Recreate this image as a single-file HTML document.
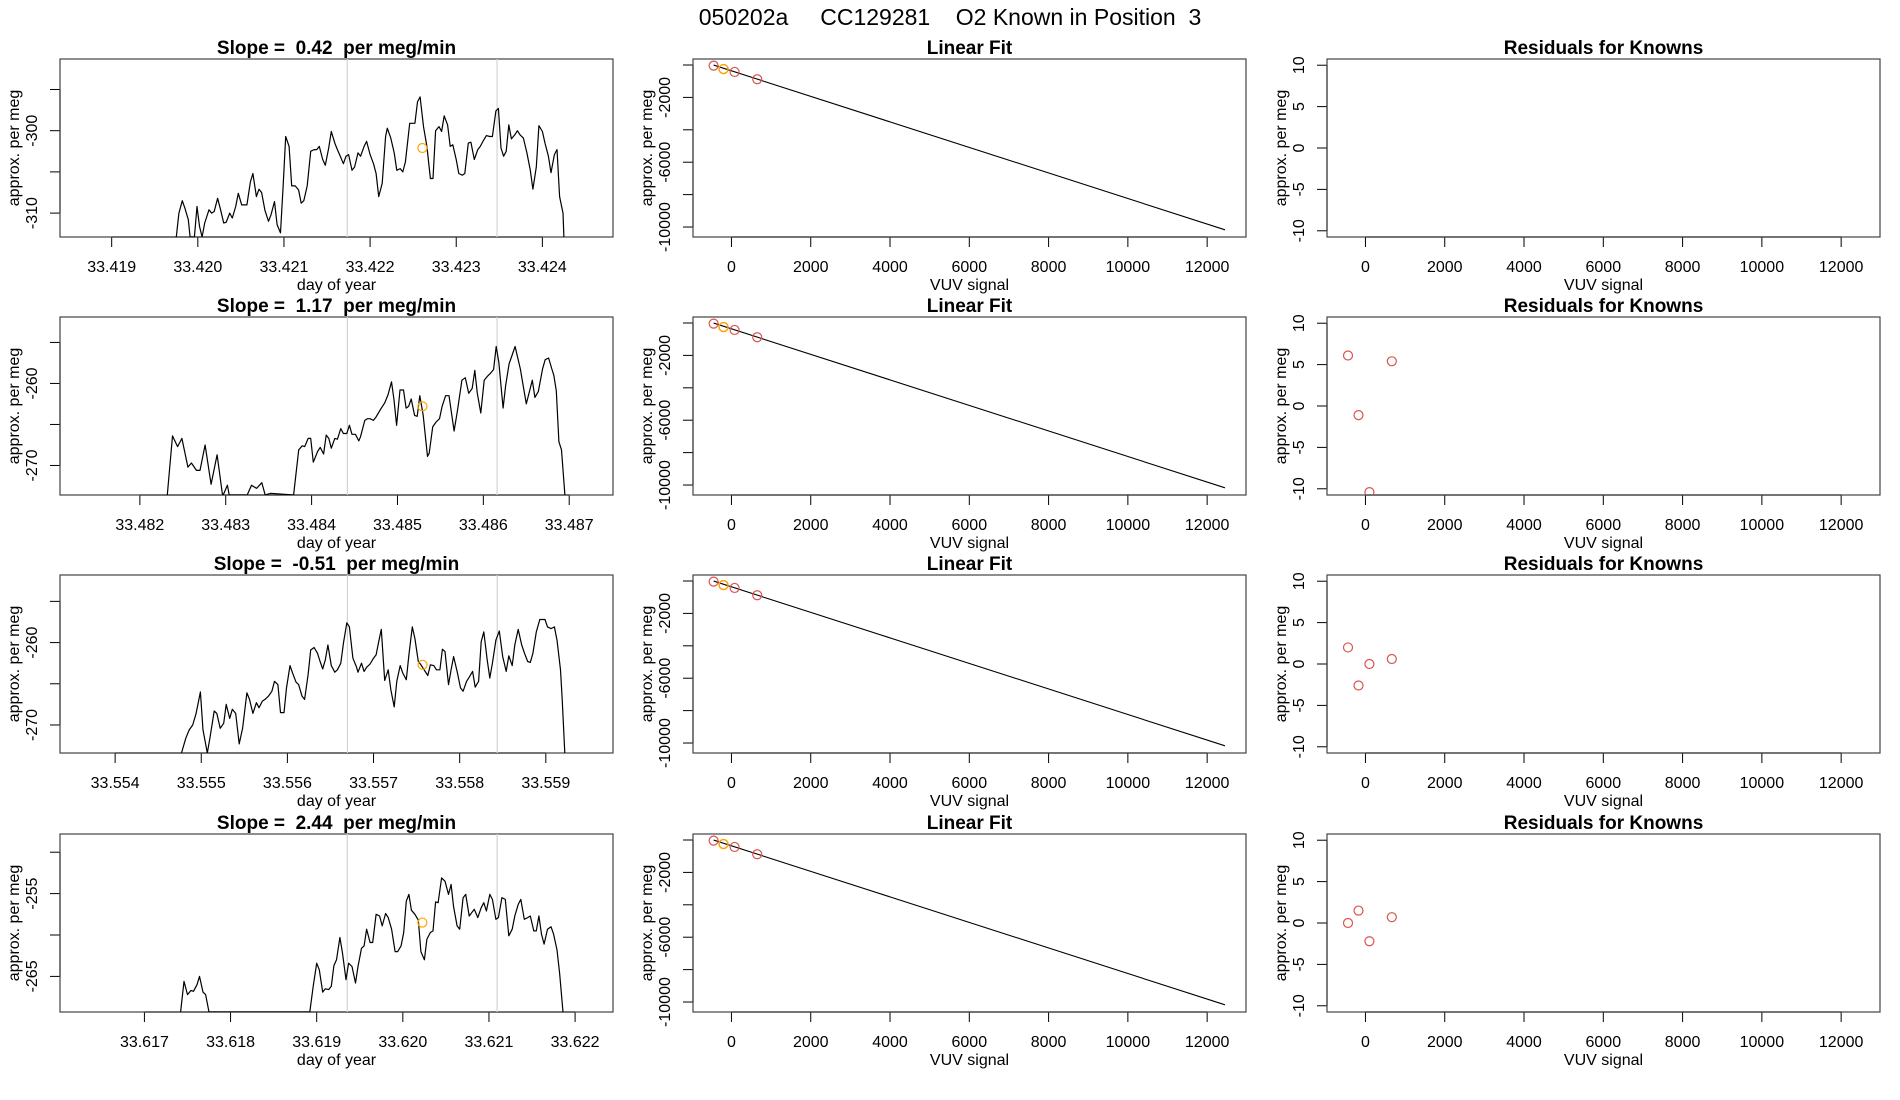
<!DOCTYPE html>
<html><head><meta charset="utf-8"><title>050202a CC129281 O2 Known in Position 3</title>
<style>
html,body{margin:0;padding:0;background:#fff;}
svg{display:block;font-family:"Liberation Sans",Arial,sans-serif;}
text{white-space:pre;}
</style></head>
<body>
<svg id="chart" width="1900" height="1100" viewBox="0 0 1900 1100" xmlns="http://www.w3.org/2000/svg">
<rect x="0" y="0" width="1900" height="1100" fill="#fff"/>
<text x="950" y="25" text-anchor="middle" font-size="23" fill="#000" xml:space="preserve">050202a     CC129281    O2 Known in Position  3</text>
</svg>
<script>
// ---------- data ----------
const slopeLabels = ["0.42", "1.17", "-0.51", "2.44"];

const p1Time = [33.41975,33.41978,33.41982,33.41985,33.41989,33.41991,33.41996,33.41999,33.42002,33.42005,33.42008,33.42013,33.42016,33.42019,33.42023,33.42026,33.42030,33.42033,33.42037,33.42040,33.42044,33.42047,33.42051,33.42057,33.42061,33.42064,33.42068,33.42071,33.42074,33.42078,33.42082,33.42085,33.42089,33.42092,33.42096,33.42099,33.42102,33.42106,33.42109,33.42113,33.42117,33.42120,33.42123,33.42127,33.42131,33.42135,33.42138,33.42141,33.42145,33.42148,33.42152,33.42155,33.42159,33.42162,33.42165,33.42169,33.42172,33.42175,33.42179,33.42182,33.42186,33.42189,33.42193,33.42196,33.42200,33.42204,33.42207,33.42210,33.42214,33.42218,33.42220,33.42224,33.42228,33.42231,33.42235,33.42238,33.42241,33.42246,33.42252,33.42255,33.42258,33.42262,33.42266,33.42270,33.42273,33.42276,33.42280,33.42283,33.42286,33.42290,33.42293,33.42296,33.42300,33.42303,33.42307,33.42310,33.42314,33.42317,33.42321,33.42325,33.42328,33.42331,33.42335,33.42339,33.42342,33.42346,33.42349,33.42352,33.42355,33.42358,33.42361,33.42364,33.42368,33.42371,33.42374,33.42378,33.42382,33.42386,33.42389,33.42393,33.42396,33.42400,33.42403,33.42407,33.42410,33.42414,33.42417,33.42420,33.42424,33.42425];
const p1Val = [-312.9,-310.0,-308.5,-309.4,-310.8,-312.9,-312.9,-309.2,-311.6,-312.9,-311.2,-309.6,-310.0,-309.8,-308.2,-309.4,-311.2,-311.1,-310.0,-310.6,-309.2,-307.6,-309.0,-309.0,-306.2,-305.2,-308.0,-307.1,-307.5,-309.7,-311.0,-310.2,-308.6,-311.4,-312.4,-306.8,-300.7,-301.9,-306.7,-306.7,-307.2,-308.8,-308.5,-306.7,-302.5,-302.3,-302.3,-301.9,-303.5,-304.2,-302.1,-300.1,-301.5,-302.3,-303.0,-304.0,-303.1,-302.9,-304.8,-304.4,-302.7,-303.1,-301.9,-301.3,-302.9,-304.0,-305.2,-308.0,-306.4,-300.7,-299.7,-300.9,-302.7,-304.8,-304.6,-305.0,-303.8,-299.1,-299.1,-296.5,-295.9,-299.5,-301.9,-305.8,-305.8,-300.0,-299.5,-300.1,-298.2,-299.3,-301.9,-301.7,-303.5,-305.2,-305.4,-305.2,-301.5,-301.4,-303.5,-302.3,-301.9,-301.3,-300.6,-300.7,-300.7,-297.6,-297.3,-302.1,-303.1,-302.5,-299.3,-301.0,-300.5,-300.0,-300.5,-300.9,-302.7,-304.8,-307.1,-304.4,-299.4,-300.1,-301.5,-303.1,-305.1,-302.9,-302.3,-308.0,-310.0,-312.9];

const p2Time = [33.48232,33.48238,33.48244,33.48249,33.48256,33.48260,33.48266,33.48270,33.48276,33.48283,33.48290,33.48296,33.48297,33.48302,33.48304,33.48325,33.48330,33.48336,33.48342,33.48346,33.48352,33.48379,33.48385,33.48389,33.48392,33.48396,33.48399,33.48402,33.48407,33.48410,33.48414,33.48417,33.48420,33.48423,33.48427,33.48430,33.48434,33.48437,33.48441,33.48444,33.48447,33.48451,33.48455,33.48457,33.48462,33.48465,33.48468,33.48472,33.48475,33.48480,33.48485,33.48489,33.48493,33.48496,33.48499,33.48503,33.48507,33.48510,33.48513,33.48516,33.48520,33.48523,33.48526,33.48530,33.48535,33.48537,33.48541,33.48545,33.48549,33.48552,33.48556,33.48560,33.48566,33.48570,33.48575,33.48579,33.48583,33.48587,33.48590,33.48593,33.48597,33.48601,33.48605,33.48608,33.48612,33.48615,33.48618,33.48623,33.48626,33.48630,33.48637,33.48643,33.48650,33.48657,33.48660,33.48664,33.48669,33.48672,33.48676,33.48680,33.48682,33.48685,33.48688,33.48691,33.48695];
const p2Val = [-273.6,-266.4,-267.7,-266.7,-270.2,-269.7,-270.6,-270.6,-267.5,-272.3,-268.7,-273.4,-273.6,-272.4,-273.6,-273.6,-272.4,-272.8,-272.1,-273.6,-273.4,-273.6,-268.1,-267.6,-267.7,-266.7,-266.7,-269.6,-268.3,-267.8,-268.6,-266.3,-266.7,-267.9,-266.7,-266.8,-265.5,-266.1,-266.1,-265.1,-266.2,-266.2,-267.0,-266.5,-264.5,-264.3,-264.3,-264.5,-264.1,-263.2,-262.4,-261.4,-259.8,-262.0,-265.1,-260.8,-260.8,-263.0,-262.8,-261.9,-263.9,-264.0,-261.5,-263.9,-268.9,-268.5,-265.3,-264.7,-264.3,-262.8,-261.5,-261.5,-265.8,-263.2,-259.6,-259.3,-261.2,-260.6,-258.4,-261.2,-263.6,-259.6,-259.1,-258.8,-258.3,-255.5,-257.4,-263.0,-260.2,-257.6,-255.5,-258.2,-262.5,-259.6,-261.7,-261.0,-258.2,-257.1,-256.9,-258.3,-259.0,-260.9,-267.1,-268.1,-273.6];

const p3Time = [33.55477,33.55482,33.55486,33.55490,33.55494,33.55499,33.55502,33.55507,33.55510,33.55515,33.55518,33.55522,33.55526,33.55529,33.55533,33.55536,33.55540,33.55544,33.55548,33.55553,33.55556,33.55560,33.55564,33.55567,33.55571,33.55574,33.55578,33.55582,33.55585,33.55589,33.55592,33.55596,33.55599,33.55603,33.55606,33.55610,33.55613,33.55617,33.55620,33.55624,33.55627,33.55631,33.55635,33.55638,33.55641,33.55644,33.55647,33.55651,33.55655,33.55658,33.55662,33.55665,33.55669,33.55672,33.55676,33.55680,33.55682,33.55686,33.55689,33.55692,33.55696,33.55700,33.55703,33.55706,33.55709,33.55713,33.55717,33.55720,33.55724,33.55727,33.55731,33.55734,33.55738,33.55741,33.55745,33.55748,33.55752,33.55755,33.55763,33.55766,33.55770,33.55773,33.55777,33.55780,33.55783,33.55787,33.55790,33.55793,33.55797,33.55801,33.55804,33.55808,33.55811,33.55815,33.55818,33.55822,33.55825,33.55828,33.55832,33.55835,33.55838,33.55842,33.55846,33.55850,33.55854,33.55857,33.55861,33.55864,33.55868,33.55872,33.55876,33.55879,33.55882,33.55885,33.55889,33.55893,33.55899,33.55902,33.55906,33.55910,33.55913,33.55917,33.55919,33.55922];
const p3Val = [-273.4,-271.6,-270.6,-270.0,-268.6,-266.0,-270.6,-273.4,-271.6,-268.3,-268.6,-270.4,-269.8,-267.5,-269.2,-268.1,-268.6,-272.3,-270.4,-266.1,-266.9,-268.6,-267.3,-267.9,-267.1,-266.9,-266.5,-265.9,-264.7,-265.1,-268.5,-268.5,-265.5,-262.8,-263.7,-264.8,-265.1,-266.5,-266.9,-263.9,-260.9,-260.6,-261.3,-262.3,-263.2,-262.1,-260.3,-262.8,-263.6,-263.3,-262.5,-260.1,-257.6,-258.1,-261.9,-262.9,-263.6,-262.5,-263.5,-263.0,-262.6,-261.9,-261.5,-259.9,-258.4,-264.6,-263.3,-265.7,-267.8,-264.7,-262.8,-263.7,-264.5,-261.5,-258.1,-259.5,-262.3,-262.7,-264.0,-262.7,-262.8,-263.3,-263.3,-260.8,-261.1,-265.1,-263.3,-261.7,-263.5,-265.5,-265.9,-264.7,-264.2,-263.5,-265.4,-264.7,-259.9,-258.7,-262.1,-264.3,-262.5,-259.7,-258.6,-261.7,-263.5,-261.6,-262.8,-260.3,-258.4,-260.3,-261.5,-262.3,-262.4,-261.3,-258.7,-257.2,-257.2,-258.1,-258.3,-258.1,-259.7,-263.3,-266.9,-273.4];

const p4Time = [33.61742,33.61746,33.61750,33.61754,33.61757,33.61761,33.61764,33.61768,33.61771,33.61775,33.61892,33.61896,33.61900,33.61903,33.61907,33.61910,33.61914,33.61917,33.61920,33.61923,33.61927,33.61930,33.61934,33.61937,33.61941,33.61945,33.61948,33.61952,33.61955,33.61958,33.61962,33.61965,33.61969,33.61973,33.61976,33.61980,33.61983,33.61987,33.61991,33.61994,33.61998,33.62001,33.62004,33.62007,33.62010,33.62014,33.62018,33.62021,33.62025,33.62028,33.62032,33.62035,33.62038,33.62041,33.62045,33.62049,33.62053,33.62056,33.62059,33.62063,33.62066,33.62070,33.62073,33.62077,33.62080,33.62083,33.62087,33.62091,33.62094,33.62097,33.62101,33.62104,33.62108,33.62111,33.62115,33.62119,33.62123,33.62127,33.62130,33.62134,33.62137,33.62141,33.62145,33.62148,33.62152,33.62155,33.62158,33.62161,33.62164,33.62168,33.62172,33.62175,33.62179,33.62182,33.62186];
const p4Val = [-269.3,-265.6,-267.2,-266.7,-266.8,-266.0,-265.0,-266.9,-267.2,-269.3,-269.3,-266.2,-263.4,-264.2,-266.9,-266.5,-266.6,-266.2,-263.7,-263.0,-260.3,-262.2,-265.4,-263.4,-263.8,-265.8,-263.8,-261.6,-261.3,-259.3,-260.9,-260.9,-257.5,-257.7,-258.9,-257.4,-257.9,-259.3,-262.0,-262.0,-261.3,-259.7,-255.9,-255.1,-257.0,-257.5,-258.2,-262.0,-263.0,-260.5,-259.7,-259.5,-256.0,-256.1,-253.1,-253.5,-255.1,-253.9,-256.6,-258.9,-259.3,-255.5,-255.1,-257.7,-257.3,-256.9,-257.9,-256.7,-256.1,-257.1,-255.1,-255.7,-258.1,-257.9,-255.5,-255.7,-260.1,-259.3,-257.7,-256.3,-255.7,-258.1,-257.9,-257.7,-259.5,-259.5,-257.7,-259.9,-261.1,-259.3,-259.0,-259.9,-261.8,-264.6,-269.3];

const timeXlim = [[33.41840,33.42482],[33.48107,33.48751],[33.55336,33.55978],[33.61602,33.62244]];
const timeYlim = [[-312.9,-291.3],[-273.6,-251.9],[-273.4,-251.8],[-269.3,-247.8]];
const timeXTicks = [[33.419,33.420,33.421,33.422,33.423,33.424],[33.482,33.483,33.484,33.485,33.486,33.487],[33.554,33.555,33.556,33.557,33.558,33.559],[33.617,33.618,33.619,33.620,33.621,33.622]];
const timeYTicks = [[-295,-300,-305,-310],[-255,-260,-265,-270],[-255,-260,-265,-270],[-250,-255,-260,-265]];
const timeYLabels = [[-300,-310],[-260,-270],[-260,-270],[-255,-265]];
const grayLines = [[33.421735,33.423474],[33.484417,33.486160],[33.556697,33.558436],[33.619355,33.621095]];
const unknownTime = [33.422607,33.485291,33.557569,33.620227];
const unknownVal = [-302.1,-262.8,-262.7,-258.5];

const knownSignal = [-450,-200,80,650];
const knownPerMeg = [-40,-250,-430,-880];
const unknownSignal = [-200,-200,-200,-200];
const unknownPerMeg = [-250,-250,-250,-250];
const fitIntercept = [-359,-359,-359,-359];
const fitSlope = [-0.7882,-0.7882,-0.7882,-0.7882];
const fitRange = [-450,12450];
const residualRow2 = [6.1,-1.1,-10.4,5.4];
const residualRow3 = [2.0,-2.6,0.0,0.6];
const residualRow4 = [0.0,1.5,-2.2,0.7];
const residualSignal = [-440,-175,100,665];
const residuals = [[],residualRow2,residualRow3,residualRow4];

const vuvXTicks = [0,2000,4000,6000,8000,10000,12000];
const vuvXlim = [-970,12980];
const fitYlim = [-10616,370];
const fitYTicks = [0,-2000,-4000,-6000,-8000,-10000];
const fitYLabels = [-2000,-6000,-10000];
const resYlim = [-10.75,10.75];
const resYTicks = [10,5,0,-5,-10];

const timeSeries = [[p1Time,p1Val],[p2Time,p2Val],[p3Time,p3Val],[p4Time,p4Val]];

// ---------- layout ----------
const NS = "http://www.w3.org/2000/svg";
const svg = document.getElementById("chart");
const colX0 = [60, 693, 1327];
const BW = 553, BH = 178;
const rowY0 = [59, 317, 575, 834];

function mk(tag, attrs, parent) {
  const e = document.createElementNS(NS, tag);
  for (const k in attrs) e.setAttribute(k, attrs[k]);
  parent.appendChild(e);
  return e;
}
function scale(d0, d1, r0, r1) { return v => r0 + (v - d0) / (d1 - d0) * (r1 - r0); }

let clipId = 0;
function makePanel(col, row, title, xlim, ylim, xticks, xlabels, yticks, ylabels, xtitle, name) {
  const L = colX0[col], T = rowY0[row], R = L + BW, B = T + BH;
  const g = mk("g", {}, svg);
  
  
  const sx = scale(xlim[0], xlim[1], L, R);
  const sy = scale(ylim[0], ylim[1], B, T);
  const t = mk("text", {x: (L + R) / 2, y: T - 5, "text-anchor": "middle", "font-size": 19, "font-weight": "bold"}, g);
  t.textContent = title;
  
  
  // x axis
  const xa = mk("g", {}, g);
  
  
  mk("line", {x1: sx(xticks[0]), x2: sx(xticks[xticks.length - 1]), y1: B, y2: B, stroke: "#000", "stroke-width": 1.2}, xa);
  xticks.forEach((v, i) => {
    mk("line", {x1: sx(v), x2: sx(v), y1: B, y2: B + 10, stroke: "#000", "stroke-width": 1}, xa);
    const lt = mk("text", {x: sx(v), y: B + 35, "text-anchor": "middle", "font-size": 16}, xa);
    lt.textContent = xlabels[i];
    
    
  });
  const xt = mk("text", {x: (L + R) / 2, y: B + 53, "text-anchor": "middle", "font-size": 16}, g);
  xt.textContent = xtitle;
  
  
  // y axis
  const ya = mk("g", {}, g);
  
  
  mk("line", {x1: L, x2: L, y1: sy(yticks[0]), y2: sy(yticks[yticks.length - 1]), stroke: "#000", "stroke-width": 1.2}, ya);
  yticks.forEach(v => {
    mk("line", {x1: L - 10, x2: L, y1: sy(v), y2: sy(v), stroke: "#000", "stroke-width": 1}, ya);
  });
  ylabels.forEach(v => {
    const yt = mk("text", {x: L - 23, y: sy(v), "text-anchor": "middle", "font-size": 16, transform: `rotate(-90 ${L - 23} ${sy(v)})`}, ya);
    yt.textContent = String(v);
    
    
  });
  const ytt = mk("text", {x: L - 41, y: (T + B) / 2, "text-anchor": "middle", "font-size": 16, transform: `rotate(-90 ${L - 41} ${(T + B) / 2})`}, g);
  ytt.textContent = "approx. per meg";
  
  
  // box
  const box = mk("rect", {x: L, y: T, width: BW, height: BH, fill: "none", stroke: "#444", "stroke-width": 1.2}, g);
  
  
  // clip
  const id = "clip" + (clipId++);
  const cp = mk("clipPath", {id: id}, g);
  mk("rect", {x: L, y: T, width: BW, height: BH}, cp);
  const plot = mk("g", {"clip-path": `url(#${id})`}, g);
  return {g, plot, sx, sy, L, T, R, B};
}

for (let r = 0; r < 4; r++) {
  // ---- time series panel ----
  const xl = timeXTicks[r].map(v => v.toFixed(3));
  const p = makePanel(0, r, `Slope =  ${slopeLabels[r]}  per meg/min`, timeXlim[r], timeYlim[r], timeXTicks[r], xl, timeYTicks[r], timeYLabels[r], "day of year", "time-series-panel-" + (r + 1));
  grayLines[r].forEach(v => {
    const gl = mk("line", {x1: p.sx(v), x2: p.sx(v), y1: p.T, y2: p.B, stroke: "#d3d3d3", "stroke-width": 1.2}, p.plot);
    
    
  });
  const [tx, ty] = timeSeries[r];
  const d = tx.map((v, i) => (i ? "L" : "M") + p.sx(v).toFixed(1) + "," + p.sy(ty[i]).toFixed(1)).join(" ");
  const ln = mk("path", {d: d, fill: "none", stroke: "#000", "stroke-width": 1.2, "stroke-linejoin": "round"}, p.plot);
  
  
  const uc = mk("circle", {cx: p.sx(unknownTime[r]), cy: p.sy(unknownVal[r]), r: 4.5, fill: "none", stroke: "#ffa500", "stroke-width": 1.2}, p.plot);
  
  

  // ---- linear fit panel ----
  const vl = vuvXTicks.map(String);
  const f = makePanel(1, r, "Linear Fit", vuvXlim, fitYlim, vuvXTicks, vl, fitYTicks, fitYLabels, "VUV signal", "linear-fit-panel-" + (r + 1));
  const fl = mk("line", {x1: f.sx(fitRange[0]), y1: f.sy(fitIntercept[r] + fitSlope[r] * fitRange[0]), x2: f.sx(fitRange[1]), y2: f.sy(fitIntercept[r] + fitSlope[r] * fitRange[1]), stroke: "#000", "stroke-width": 1.1}, f.plot);
  
  
  knownSignal.forEach((v, i) => {
    const c = mk("circle", {cx: f.sx(v), cy: f.sy(knownPerMeg[i]), r: 4.5, fill: "none", stroke: "#d9534f", "stroke-width": 1.2}, f.plot);
    
    
  });
  const oc = mk("circle", {cx: f.sx(unknownSignal[r]), cy: f.sy(unknownPerMeg[r]), r: 4.5, fill: "none", stroke: "#ffa500", "stroke-width": 1.4}, f.plot);
  
  

  // ---- residual panel ----
  const q = makePanel(2, r, "Residuals for Knowns", vuvXlim, resYlim, vuvXTicks, vl, resYTicks, resYTicks, "VUV signal", "residuals-panel-" + (r + 1));
  residuals[r].forEach((v, i) => {
    const c = mk("circle", {cx: q.sx(residualSignal[i]), cy: q.sy(v), r: 4.5, fill: "none", stroke: "#d9534f", "stroke-width": 1.2}, q.plot);
    
    
  });
}
</script>
</body></html>
